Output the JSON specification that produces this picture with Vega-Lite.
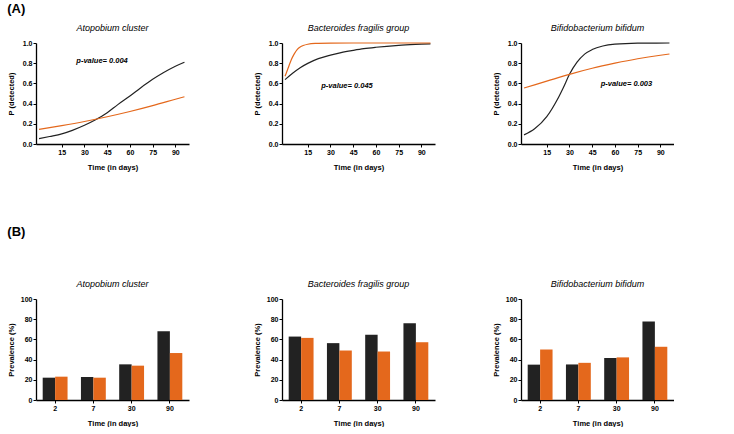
{
  "$schema": "https://vega.github.io/schema/vega-lite/v6.json",
  "padding": {"left": 7, "top": 3, "right": 0, "bottom": 0},
  "background": "white",
  "datasets": {
    "curves": [
      {"panel": "ato", "g": "Group 1", "day": 0, "p": 0.053},
      {"panel": "ato", "g": "Group 1", "day": 7, "p": 0.074},
      {"panel": "ato", "g": "Group 1", "day": 15, "p": 0.10},
      {"panel": "ato", "g": "Group 1", "day": 22, "p": 0.135},
      {"panel": "ato", "g": "Group 1", "day": 30, "p": 0.185},
      {"panel": "ato", "g": "Group 1", "day": 37, "p": 0.237},
      {"panel": "ato", "g": "Group 1", "day": 45, "p": 0.31},
      {"panel": "ato", "g": "Group 1", "day": 52, "p": 0.39},
      {"panel": "ato", "g": "Group 1", "day": 60, "p": 0.475},
      {"panel": "ato", "g": "Group 1", "day": 67, "p": 0.555},
      {"panel": "ato", "g": "Group 1", "day": 75, "p": 0.64},
      {"panel": "ato", "g": "Group 1", "day": 82, "p": 0.705},
      {"panel": "ato", "g": "Group 1", "day": 90, "p": 0.77},
      {"panel": "ato", "g": "Group 1", "day": 96, "p": 0.81},
      {"panel": "ato", "g": "Group 2", "day": 0, "p": 0.145},
      {"panel": "ato", "g": "Group 2", "day": 15, "p": 0.182},
      {"panel": "ato", "g": "Group 2", "day": 30, "p": 0.223},
      {"panel": "ato", "g": "Group 2", "day": 45, "p": 0.27},
      {"panel": "ato", "g": "Group 2", "day": 60, "p": 0.322},
      {"panel": "ato", "g": "Group 2", "day": 75, "p": 0.38},
      {"panel": "ato", "g": "Group 2", "day": 90, "p": 0.443},
      {"panel": "ato", "g": "Group 2", "day": 96, "p": 0.468},
      {"panel": "bac", "g": "Group 1", "day": 0, "p": 0.637},
      {"panel": "bac", "g": "Group 1", "day": 5, "p": 0.70},
      {"panel": "bac", "g": "Group 1", "day": 10, "p": 0.755},
      {"panel": "bac", "g": "Group 1", "day": 15, "p": 0.798},
      {"panel": "bac", "g": "Group 1", "day": 22, "p": 0.845},
      {"panel": "bac", "g": "Group 1", "day": 30, "p": 0.88},
      {"panel": "bac", "g": "Group 1", "day": 37, "p": 0.905},
      {"panel": "bac", "g": "Group 1", "day": 45, "p": 0.927},
      {"panel": "bac", "g": "Group 1", "day": 52, "p": 0.944},
      {"panel": "bac", "g": "Group 1", "day": 60, "p": 0.958},
      {"panel": "bac", "g": "Group 1", "day": 75, "p": 0.977},
      {"panel": "bac", "g": "Group 1", "day": 90, "p": 0.988},
      {"panel": "bac", "g": "Group 1", "day": 96, "p": 0.992},
      {"panel": "bac", "g": "Group 2", "day": 0, "p": 0.67},
      {"panel": "bac", "g": "Group 2", "day": 2, "p": 0.75},
      {"panel": "bac", "g": "Group 2", "day": 4, "p": 0.83},
      {"panel": "bac", "g": "Group 2", "day": 6, "p": 0.89},
      {"panel": "bac", "g": "Group 2", "day": 8, "p": 0.935},
      {"panel": "bac", "g": "Group 2", "day": 10, "p": 0.96},
      {"panel": "bac", "g": "Group 2", "day": 12, "p": 0.975},
      {"panel": "bac", "g": "Group 2", "day": 15, "p": 0.988},
      {"panel": "bac", "g": "Group 2", "day": 20, "p": 0.996},
      {"panel": "bac", "g": "Group 2", "day": 30, "p": 0.999},
      {"panel": "bac", "g": "Group 2", "day": 45, "p": 1.0},
      {"panel": "bac", "g": "Group 2", "day": 60, "p": 1.0},
      {"panel": "bac", "g": "Group 2", "day": 75, "p": 1.0},
      {"panel": "bac", "g": "Group 2", "day": 96, "p": 1.0},
      {"panel": "bif", "g": "Group 1", "day": 0, "p": 0.09},
      {"panel": "bif", "g": "Group 1", "day": 7, "p": 0.15},
      {"panel": "bif", "g": "Group 1", "day": 15, "p": 0.27},
      {"panel": "bif", "g": "Group 1", "day": 22, "p": 0.44},
      {"panel": "bif", "g": "Group 1", "day": 26, "p": 0.56},
      {"panel": "bif", "g": "Group 1", "day": 30, "p": 0.69},
      {"panel": "bif", "g": "Group 1", "day": 35, "p": 0.81},
      {"panel": "bif", "g": "Group 1", "day": 40, "p": 0.89},
      {"panel": "bif", "g": "Group 1", "day": 45, "p": 0.935},
      {"panel": "bif", "g": "Group 1", "day": 52, "p": 0.97},
      {"panel": "bif", "g": "Group 1", "day": 60, "p": 0.988},
      {"panel": "bif", "g": "Group 1", "day": 75, "p": 0.998},
      {"panel": "bif", "g": "Group 1", "day": 96, "p": 1.0},
      {"panel": "bif", "g": "Group 2", "day": 0, "p": 0.554},
      {"panel": "bif", "g": "Group 2", "day": 15, "p": 0.622},
      {"panel": "bif", "g": "Group 2", "day": 30, "p": 0.69},
      {"panel": "bif", "g": "Group 2", "day": 45, "p": 0.75},
      {"panel": "bif", "g": "Group 2", "day": 60, "p": 0.80},
      {"panel": "bif", "g": "Group 2", "day": 75, "p": 0.844},
      {"panel": "bif", "g": "Group 2", "day": 90, "p": 0.879},
      {"panel": "bif", "g": "Group 2", "day": 96, "p": 0.891}
    ],
    "bars": [
      {"panel": "ato", "g": "Group 1", "time": "2", "prevalence": 22.1},
      {"panel": "ato", "g": "Group 2", "time": "2", "prevalence": 23.1},
      {"panel": "ato", "g": "Group 1", "time": "7", "prevalence": 22.8},
      {"panel": "ato", "g": "Group 2", "time": "7", "prevalence": 22.1},
      {"panel": "ato", "g": "Group 1", "time": "30", "prevalence": 35.3},
      {"panel": "ato", "g": "Group 2", "time": "30", "prevalence": 34.0},
      {"panel": "ato", "g": "Group 1", "time": "90", "prevalence": 68.0},
      {"panel": "ato", "g": "Group 2", "time": "90", "prevalence": 46.5},
      {"panel": "bac", "g": "Group 1", "time": "2", "prevalence": 62.8},
      {"panel": "bac", "g": "Group 2", "time": "2", "prevalence": 61.5},
      {"panel": "bac", "g": "Group 1", "time": "7", "prevalence": 56.3},
      {"panel": "bac", "g": "Group 2", "time": "7", "prevalence": 49.0},
      {"panel": "bac", "g": "Group 1", "time": "30", "prevalence": 64.5},
      {"panel": "bac", "g": "Group 2", "time": "30", "prevalence": 48.0},
      {"panel": "bac", "g": "Group 1", "time": "90", "prevalence": 76.0},
      {"panel": "bac", "g": "Group 2", "time": "90", "prevalence": 57.2},
      {"panel": "bif", "g": "Group 1", "time": "2", "prevalence": 35.0},
      {"panel": "bif", "g": "Group 2", "time": "2", "prevalence": 50.0},
      {"panel": "bif", "g": "Group 1", "time": "7", "prevalence": 35.2},
      {"panel": "bif", "g": "Group 2", "time": "7", "prevalence": 36.8},
      {"panel": "bif", "g": "Group 1", "time": "30", "prevalence": 41.6},
      {"panel": "bif", "g": "Group 2", "time": "30", "prevalence": 42.2},
      {"panel": "bif", "g": "Group 1", "time": "90", "prevalence": 77.8},
      {"panel": "bif", "g": "Group 2", "time": "90", "prevalence": 52.7}
    ]
  },
  "config": {
    "font": "Liberation Sans",
    "view": {"stroke": null},
    "axis": {
      "labelFont": "Liberation Sans", "labelFontWeight": "bold", "labelFontSize": 7, "labelColor": "#000",
      "labelOverlap": false, "labelBound": false, "labelFlush": false,
      "titleFont": "Liberation Sans", "titleFontSize": 7.5, "titleFontWeight": "bold", "titleColor": "#000",
      "domainColor": "#000", "domainWidth": 1.3, "tickColor": "#000", "tickSize": 3, "tickWidth": 1,
      "grid": false, "labelPadding": 1
    },
    "axisY": {"titlePadding": 7},
    "axisX": {"titlePadding": 8},
    "title": {"font": "Liberation Sans", "fontSize": 9, "fontWeight": "normal", "fontStyle": "italic", "color": "#000", "offset": 6},
    "line": {"strokeWidth": 1.2, "interpolate": "monotone"}
  },
  "spacing": 55,
  "vconcat": [
    {
      "title": {"text": "(A)", "anchor": "start", "fontSize": 13, "fontStyle": "normal", "fontWeight": "bold", "offset": 8},
      "spacing": 64,
      "hconcat": [
        {
          "width": 153, "height": 101,
          "title": "Atopobium cluster",
          "encoding": {
            "x": {"type": "quantitative", "scale": {"domain": [-2, 99], "nice": false}, "axis": {"values": [15, 30, 45, 60, 75, 90], "title": "Time (in days)"}},
            "y": {"type": "quantitative", "scale": {"domain": [0, 1], "nice": false}, "axis": {"values": [0, 0.2, 0.4, 0.6, 0.8, 1.0], "format": ".1f", "title": "P (detected)"}}
          },
          "layer": [
            {"data": {"name": "curves"},
             "transform": [{"filter": "datum.panel === 'ato'"}],
             "mark": "line",
             "encoding": {
               "x": {"field": "day", "type": "quantitative"},
               "y": {"field": "p", "type": "quantitative"},
               "color": {"field": "g", "type": "nominal", "scale": {"domain": ["Group 1", "Group 2"], "range": ["#222222", "#E4681C"]}, "legend": null}
             }},
            {"data": {"values": [{"label": "p-value= 0.004"}]},
             "mark": {"type": "text", "font": "Liberation Sans", "fontSize": 7.5, "fontWeight": "bold", "fontStyle": "italic", "fill": "#000"},
             "encoding": {"x": {"datum": 41.6, "type": "quantitative"}, "y": {"datum": 0.825, "type": "quantitative"}, "text": {"field": "label"}}}
          ]
        },
        {
          "spacing": 57,
          "hconcat": [
            {
              "width": 153, "height": 101,
              "title": "Bacteroides fragilis group",
              "encoding": {
                "x": {"type": "quantitative", "scale": {"domain": [-2, 99], "nice": false}, "axis": {"values": [15, 30, 45, 60, 75, 90], "title": "Time (in days)"}},
                "y": {"type": "quantitative", "scale": {"domain": [0, 1], "nice": false}, "axis": {"values": [0, 0.2, 0.4, 0.6, 0.8, 1.0], "format": ".1f", "title": "P (detected)"}}
              },
              "layer": [
                {"data": {"name": "curves"},
                 "transform": [{"filter": "datum.panel === 'bac'"}],
                 "mark": "line",
                 "encoding": {
                   "x": {"field": "day", "type": "quantitative"},
                   "y": {"field": "p", "type": "quantitative"},
                   "color": {"field": "g", "type": "nominal", "scale": {"domain": ["Group 1", "Group 2"], "range": ["#222222", "#E4681C"]}, "legend": null}
                 }},
                {"data": {"values": [{"label": "p-value= 0.045"}]},
                 "mark": {"type": "text", "font": "Liberation Sans", "fontSize": 7.5, "fontWeight": "bold", "fontStyle": "italic", "fill": "#000"},
                 "encoding": {"x": {"datum": 40.9, "type": "quantitative"}, "y": {"datum": 0.577, "type": "quantitative"}, "text": {"field": "label"}}}
              ]
            },
            {
              "width": 153, "height": 101,
              "title": "Bifidobacterium bifidum",
              "encoding": {
                "x": {"type": "quantitative", "scale": {"domain": [-2, 99], "nice": false}, "axis": {"values": [15, 30, 45, 60, 75, 90], "title": "Time (in days)"}},
                "y": {"type": "quantitative", "scale": {"domain": [0, 1], "nice": false}, "axis": {"values": [0, 0.2, 0.4, 0.6, 0.8, 1.0], "format": ".1f", "title": "P (detected)"}}
              },
              "layer": [
                {"data": {"name": "curves"},
                 "transform": [{"filter": "datum.panel === 'bif'"}],
                 "mark": "line",
                 "encoding": {
                   "x": {"field": "day", "type": "quantitative"},
                   "y": {"field": "p", "type": "quantitative"},
                   "color": {"field": "g", "type": "nominal", "scale": {"domain": ["Group 1", "Group 2"], "range": ["#222222", "#E4681C"]}, "legend": null}
                 }},
                {"data": {"values": [{"label": "p-value= 0.003"}]},
                 "mark": {"type": "text", "font": "Liberation Sans", "fontSize": 7.5, "fontWeight": "bold", "fontStyle": "italic", "fill": "#000"},
                 "encoding": {"x": {"datum": 67.6, "type": "quantitative"}, "y": {"datum": 0.597, "type": "quantitative"}, "text": {"field": "label"}}}
              ]
            }
          ]
        }
      ]
    },
    {
      "title": {"text": "(B)", "anchor": "start", "fontSize": 13, "fontStyle": "normal", "fontWeight": "bold", "offset": 41},
      "spacing": 64,
      "hconcat": [
        {
          "width": 153, "height": 101,
          "title": "Atopobium cluster",
          "data": {"name": "bars"},
          "transform": [{"filter": "datum.panel === 'ato'"}],
          "mark": "bar",
          "encoding": {
            "x": {"field": "time", "type": "ordinal", "sort": ["2", "7", "30", "90"], "scale": {"paddingInner": 0.35, "paddingOuter": 0.175}, "axis": {"labelAngle": 0, "title": "Time (in days)"}},
            "xOffset": {"field": "g", "type": "nominal", "scale": {"paddingInner": 0, "paddingOuter": 0}},
            "y": {"field": "prevalence", "type": "quantitative", "scale": {"domain": [0, 100], "nice": false}, "axis": {"values": [0, 20, 40, 60, 80, 100], "title": "Prevalence (%)", "titlePadding": 5}},
            "color": {"field": "g", "type": "nominal", "scale": {"domain": ["Group 1", "Group 2"], "range": ["#333333", "#FF6600"]}, "legend": null}
          }
        },
        {
          "spacing": 57,
          "hconcat": [
            {
              "width": 153, "height": 101,
              "title": "Bacteroides fragilis group",
              "data": {"name": "bars"},
              "transform": [{"filter": "datum.panel === 'bac'"}],
              "mark": "bar",
              "encoding": {
                "x": {"field": "time", "type": "ordinal", "sort": ["2", "7", "30", "90"], "scale": {"paddingInner": 0.35, "paddingOuter": 0.175}, "axis": {"labelAngle": 0, "title": "Time (in days)"}},
                "xOffset": {"field": "g", "type": "nominal", "scale": {"paddingInner": 0, "paddingOuter": 0}},
                "y": {"field": "prevalence", "type": "quantitative", "scale": {"domain": [0, 100], "nice": false}, "axis": {"values": [0, 20, 40, 60, 80, 100], "title": "Prevalence (%)", "titlePadding": 5}},
                "color": {"field": "g", "type": "nominal", "scale": {"domain": ["Group 1", "Group 2"], "range": ["#333333", "#FF6600"]}, "legend": null}
              }
            },
            {
              "width": 153, "height": 101,
              "title": "Bifidobacterium bifidum",
              "data": {"name": "bars"},
              "transform": [{"filter": "datum.panel === 'bif'"}],
              "mark": "bar",
              "encoding": {
                "x": {"field": "time", "type": "ordinal", "sort": ["2", "7", "30", "90"], "scale": {"paddingInner": 0.35, "paddingOuter": 0.175}, "axis": {"labelAngle": 0, "title": "Time (in days)"}},
                "xOffset": {"field": "g", "type": "nominal", "scale": {"paddingInner": 0, "paddingOuter": 0}},
                "y": {"field": "prevalence", "type": "quantitative", "scale": {"domain": [0, 100], "nice": false}, "axis": {"values": [0, 20, 40, 60, 80, 100], "title": "Prevalence (%)", "titlePadding": 5}},
                "color": {"field": "g", "type": "nominal", "scale": {"domain": ["Group 1", "Group 2"], "range": ["#333333", "#FF6600"]}, "legend": null}
              }
            }
          ]
        }
      ]
    }
  ]
}
